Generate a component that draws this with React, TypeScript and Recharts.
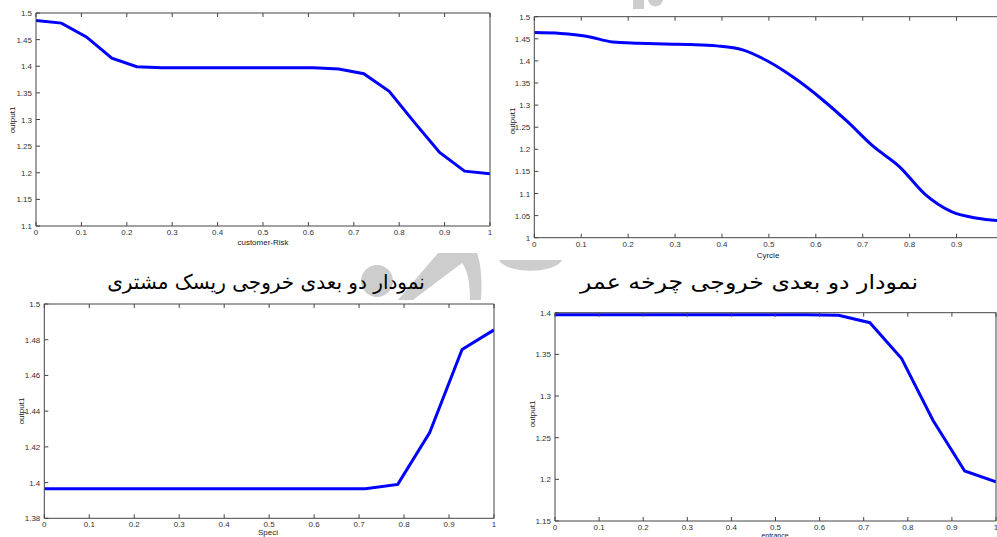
import React from "react";
import { LineChart, Line, XAxis, YAxis } from "recharts";

// customer-Risk panel (top left)
const riskX = [0, 0.056, 0.111, 0.167, 0.222, 0.278, 0.333, 0.389, 0.444, 0.5, 0.556, 0.611, 0.667, 0.722, 0.778, 0.833, 0.889, 0.944, 1];
const riskOut = [1.486, 1.481, 1.455, 1.415, 1.399, 1.397, 1.397, 1.397, 1.397, 1.397, 1.397, 1.397, 1.395, 1.386, 1.353, 1.295, 1.238, 1.203, 1.198];

// Cyrcle panel (top right)
const cycleX = [0, 0.056, 0.111, 0.167, 0.222, 0.278, 0.333, 0.389, 0.444, 0.5, 0.556, 0.611, 0.667, 0.722, 0.778, 0.833, 0.889, 0.944, 1];
const cycleOut = [1.464, 1.462, 1.456, 1.443, 1.44, 1.438, 1.437, 1.434, 1.425, 1.398, 1.36, 1.315, 1.263, 1.207, 1.161, 1.098, 1.059, 1.044, 1.038];

// Speci panel (bottom left)
const speciX = [0, 0.071, 0.143, 0.214, 0.286, 0.357, 0.429, 0.5, 0.571, 0.643, 0.714, 0.786, 0.857, 0.929, 1];
const speciOut = [1.3965, 1.3965, 1.3965, 1.3965, 1.3965, 1.3965, 1.3965, 1.3965, 1.3965, 1.3965, 1.3965, 1.399, 1.428, 1.4745, 1.4855];

// entrance panel (bottom right)
const entranceX = [0, 0.071, 0.143, 0.214, 0.286, 0.357, 0.429, 0.5, 0.571, 0.643, 0.714, 0.786, 0.857, 0.929, 1];
const entranceOut = [1.3975, 1.3975, 1.3975, 1.3975, 1.3975, 1.3975, 1.3975, 1.3975, 1.3975, 1.397, 1.388, 1.345, 1.271, 1.21, 1.197];

const xTicks = [0, 0.1, 0.2, 0.3, 0.4, 0.5, 0.6, 0.7, 0.8, 0.9, 1];
// the Cyrcle panel is cut at the page edge before x = 1
const cycleXTicks = [0, 0.1, 0.2, 0.3, 0.4, 0.5, 0.6, 0.7, 0.8, 0.9];
const riskTicks = [1.1, 1.15, 1.2, 1.25, 1.3, 1.35, 1.4, 1.45, 1.5];
const cycleTicks = [1, 1.05, 1.1, 1.15, 1.2, 1.25, 1.3, 1.35, 1.4, 1.45, 1.5];
const speciTicks = [1.38, 1.4, 1.42, 1.44, 1.46, 1.48, 1.5];
const entranceTicks = [1.15, 1.2, 1.25, 1.3, 1.35, 1.4];

const captions = ["نمودار دو بعدی خروجی ریسک مشتری", "نمودار دو بعدی خروجی چرخه عمر"];

const AXIS = "#444";
const LABEL = "#333";
const FONT = "'Liberation Sans', Arial, sans-serif";

const toRows = (xs: number[], ys: number[]) => xs.map((x, i) => ({ x, y: ys[i] }));

const BottomTick = (p: any) => (
  <g>
    <line x1={p.x} x2={p.x} y1={p.y} y2={p.y - 4} stroke={AXIS} />
    <text x={p.x} y={p.y + 9} textAnchor="middle" fontSize={8} fill={LABEL} fontFamily={FONT}>
      {p.payload.value}
    </text>
  </g>
);
const TopTick = (p: any) => <line x1={p.x} x2={p.x} y1={p.y} y2={p.y + 4} stroke={AXIS} />;
const LeftTick = (p: any) => (
  <g>
    <line x1={p.x} x2={p.x + 4} y1={p.y} y2={p.y} stroke={AXIS} />
    <text x={p.x - 4} y={p.y + 3} textAnchor="end" fontSize={8} fill={LABEL} fontFamily={FONT}>
      {p.payload.value}
    </text>
  </g>
);
const RightTick = (p: any) => <line x1={p.x} x2={p.x - 4} y1={p.y} y2={p.y} stroke={AXIS} />;

interface PanelProps {
  left: number;
  top: number;
  width: number;
  height: number;
  // plot box edges, relative to the panel
  box: { top: number; right: number; bottom: number; left: number };
  xs: number[];
  ys: number[];
  xTickList?: number[];
  yDomain: [number, number];
  yTicks: number[];
  curve?: "linear" | "monotone";
}

function Panel({ left, top, width, height, box, xs, ys, xTickList = xTicks, yDomain, yTicks, curve = "linear" }: PanelProps) {
  // each axis takes 1px, so the margins are the box minus that
  const margin = {
    top: box.top - 1,
    left: box.left - 1,
    right: width - box.right - 1,
    bottom: height - box.bottom - 1,
  };
  return (
    <div style={{ position: "absolute", left, top }}>
      <LineChart width={width} height={height} data={toRows(xs, ys)} margin={margin}>
        <XAxis type="number" dataKey="x" domain={[0, 1]} ticks={xTickList} interval={0} height={1}
          tickSize={0} tickMargin={0} tickLine={false} axisLine={{ stroke: AXIS }} tick={BottomTick} allowDataOverflow />
        <XAxis xAxisId="top" orientation="top" type="number" dataKey="x" domain={[0, 1]} ticks={xTickList} interval={0}
          height={1} tickSize={0} tickMargin={0} tickLine={false} axisLine={{ stroke: AXIS }} tick={TopTick} />
        <YAxis type="number" domain={yDomain} ticks={yTicks} interval={0} width={1}
          tickSize={0} tickMargin={0} tickLine={false} axisLine={{ stroke: AXIS }} tick={LeftTick} allowDataOverflow />
        <YAxis yAxisId="right" orientation="right" type="number" domain={yDomain} ticks={yTicks} interval={0} width={1}
          tickSize={0} tickMargin={0} tickLine={false} axisLine={{ stroke: AXIS }} tick={RightTick} />
        <Line type={curve} dataKey="y" stroke="#0000ff" strokeWidth={3} dot={false} isAnimationActive={false} />
      </LineChart>
    </div>
  );
}

const titleStyle: React.CSSProperties = {
  position: "absolute",
  fontFamily: FONT,
  fontSize: 8,
  color: "#222",
  whiteSpace: "nowrap",
  transform: "translate(-50%, -50%)",
};

function XTitle({ x, y, text, size = 8 }: { x: number; y: number; text: string; size?: number }) {
  return <div style={{ ...titleStyle, left: x, top: y, fontSize: size }}>{text}</div>;
}
function YTitle({ x, y, text }: { x: number; y: number; text: string }) {
  return <div style={{ ...titleStyle, left: x, top: y, transform: "translate(-50%, -50%) rotate(-90deg)" }}>{text}</div>;
}

const captionStyle: React.CSSProperties = {
  position: "absolute",
  fontFamily: "'DejaVu Sans', sans-serif",
  fontSize: 20,
  color: "#000",
  whiteSpace: "nowrap",
  direction: "rtl",
};

export default function App() {
  return (
    <div style={{ position: "fixed", left: 0, top: 0, width: 997, height: 537, overflow: "hidden", background: "#fff" }}>
      {/* faint watermark behind the panels */}
      <svg width={997} height={537} style={{ position: "absolute", left: 0, top: 0 }}>
        <g fill="#cdcdcd">
          <circle cx={377} cy={281} r={16} />
          <path d="M438,253 L477,253 Q483,270 481,300 L470,300 Q470,273 462,263 L413,300 L398,300 Z" />
          <path d="M499,260 L562,260 A32,13 0 0 1 499,260 Z" />
          <rect x={633} y={0} width={11} height={9} />
          <path d="M648,0 L663,0 A8,10 0 0 1 648,0 Z" />
        </g>
      </svg>

      <Panel left={0} top={0} width={500} height={250} box={{ top: 13, right: 490, bottom: 226, left: 36 }}
        xs={riskX} ys={riskOut} yDomain={[1.1, 1.5]} yTicks={riskTicks} />
      <Panel left={500} top={0} width={510} height={262} box={{ top: 16.7, right: 503.5, bottom: 237.7, left: 34.3 }}
        xs={cycleX} ys={cycleOut} xTickList={cycleXTicks} yDomain={[1, 1.5]} yTicks={cycleTicks} curve="monotone" />
      <Panel left={0} top={290} width={500} height={260} box={{ top: 14, right: 494, bottom: 228.3, left: 44.3 }}
        xs={speciX} ys={speciOut} yDomain={[1.38, 1.5]} yTicks={speciTicks} />
      <Panel left={500} top={290} width={500} height={260} box={{ top: 22.7, right: 496, bottom: 231, left: 55 }}
        xs={entranceX} ys={entranceOut} yDomain={[1.15, 1.4]} yTicks={entranceTicks} />

      <XTitle x={263} y={242} text="customer-Risk" />
      <XTitle x={768} y={255} text="Cyrcle" />
      <XTitle x={268} y={532} text="Speci" />
      <XTitle x={775} y={534.5} text="entrance" size={7} />
      <YTitle x={12} y={120} text="output1" />
      <YTitle x={512} y={121} text="output1" />
      <YTitle x={21} y={411} text="output1" />
      <YTitle x={532} y={414} text="output1" />

      <div style={{ ...captionStyle, left: 266, top: 282, transform: "translate(-50%, -50%)" }}>{captions[0]}</div>
      <div style={{ ...captionStyle, left: 749, top: 282, transform: "translate(-50%, -50%) scaleX(1.18)" }}>{captions[1]}</div>
    </div>
  );
}
